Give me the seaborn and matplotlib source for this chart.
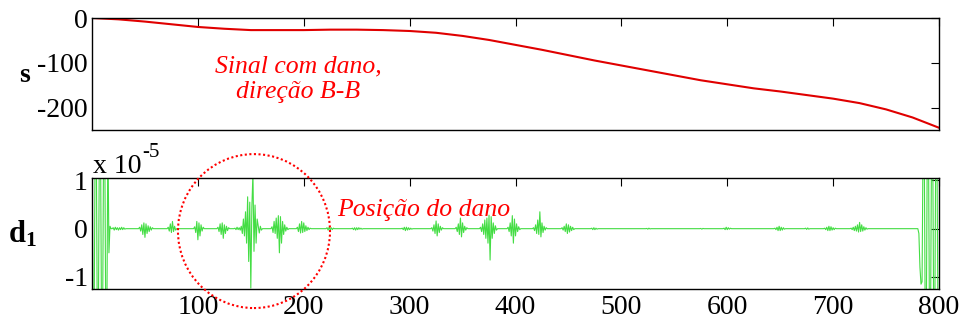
import numpy as np
import pandas as pd
import matplotlib
matplotlib.use("Agg")
import matplotlib.pyplot as plt
from matplotlib.patches import Ellipse
import seaborn as sns

# ---------------- data ----------------
s_x = [0, 25, 50, 75, 100, 125, 150, 175, 200, 225, 250, 275, 300, 325, 350,
       375, 400, 425, 450, 475, 500, 525, 550, 575, 600, 625, 650, 675, 700,
       725, 750, 775, 800]
s_y = [0, -3, -8, -14, -20, -24, -27, -27, -27, -26, -26, -27, -29, -33, -40,
       -49, -60, -71, -83, -95, -106, -117, -128, -139, -148, -157, -164, -172,
       -180, -190, -204, -222, -245]

# detail signal d1 (x 1e-5): bursts, zero elsewhere
d1_length = 801
burst_starts = [0, 20, 45, 72, 97, 119, 135, 141, 157, 170, 194, 222, 246, 293,
                321, 344, 367, 393, 417, 444, 472, 524, 575, 597, 645, 674,
                692, 717, 781]
burst_values = [
    [2, -2, -2, 2, 2, -2, -2, 2, 2, -2, -2, 2, 2, -2, -2, 2, -0.5, 0.05],
    [0.02, -0.03, 0.03, -0.02, 0.02, -0.03, 0.02, -0.02, 0.03, -0.02, 0.02, -0.01],
    [0.03, -0.05, 0.08, -0.12, 0.12, -0.18, 0.1, -0.1, 0.06, -0.06, 0.04, -0.03, 0.02],
    [0.03, -0.05, 0.1, -0.08, 0.15, -0.06, 0.05, -0.03],
    [0.04, -0.08, 0.15, -0.23, 0.12, -0.15, 0.08, -0.05, 0.03],
    [0.03, -0.06, 0.1, -0.12, 0.12, -0.2, 0.08, -0.1, 0.05, -0.04, 0.02],
    [0.01, -0.02, 0.03, -0.02, 0.02, -0.03],
    [0.05, -0.1, 0.2, -0.15, 0.35, -0.3, 0.66, -0.68, 0.55, -1.23, 0.45, 1.15,
     -0.47, 0.49, -0.3, 0.2],
    [0.06, -0.09, 0.05, -0.03],
    [0.04, -0.08, 0.15, -0.1, 0.22, -0.2, 0.27, -0.5, 0.25, -0.3, 0.15, -0.12,
     0.08, -0.05, 0.03, -0.02],
    [0.03, -0.06, 0.1, -0.09, 0.15, -0.08, 0.12, -0.06, 0.06, -0.04, 0.03, -0.02, 0.01],
    [0.02, -0.03, 0.03, -0.03, 0.02, -0.02, 0.01],
    [0.01, -0.02, 0.02, -0.03, 0.02, -0.02, 0.02, -0.01, 0.01, -0.01],
    [0.01, -0.02, 0.03, -0.04, 0.03, -0.03, 0.02, -0.02, 0.01, -0.01],
    [0.02, -0.05, 0.08, -0.1, 0.16, -0.15, 0.1, -0.08, 0.05, -0.03, 0.02],
    [0.03, -0.06, 0.1, -0.12, 0.22, -0.17, 0.12, -0.08, 0.05, -0.03, 0.02],
    [0.03, -0.06, 0.1, -0.12, 0.18, -0.2, 0.22, -0.3, 0.28, -0.65, 0.25, -0.2,
     0.12, -0.1, 0.06, -0.03],
    [0.03, -0.06, 0.12, -0.15, 0.27, -0.3, 0.2, -0.15, 0.1, -0.06, 0.04, -0.02],
    [0.02, -0.04, 0.08, -0.1, 0.18, -0.12, 0.35, -0.17, 0.12, -0.08, 0.05, -0.03, 0.02],
    [0.02, -0.03, 0.05, -0.06, 0.1, -0.1, 0.08, -0.07, 0.05, -0.04, 0.03, -0.02],
    [0.01, -0.02, 0.02, -0.02, 0.01, -0.01],
    [0.005, -0.01, 0.01, -0.005],
    [0.005, -0.01, 0.005],
    [0.01, -0.02, 0.03, -0.02, 0.02, -0.01, 0.01],
    [0.01, -0.02, 0.03, -0.04, 0.05, -0.04, 0.03, -0.03, 0.02, -0.01],
    [0.01, -0.015, 0.015, -0.01],
    [0.01, -0.02, 0.03, -0.04, 0.05, -0.04, 0.04, -0.03, 0.02, -0.02, 0.01],
    [0.01, -0.02, 0.03, -0.04, 0.05, -0.05, 0.08, -0.07, 0.13, -0.06, 0.08,
     -0.05, 0.04, -0.03, 0.02, -0.01],
    [-0.1, -0.8, -1.15, -1.1, 2, 2, -2, -2, 2, 2, -2, -2, 2, 2, -2, -2, 2, 2, -2, -2],
]

x_ticks = [100, 200, 300, 400, 500, 600, 700, 800]
s_ticks = [-200, -100, 0]
d1_ticks = [-1, 0, 1]

# -------- build table --------
d1_y = np.zeros(d1_length)
for st, vals in zip(burst_starts, burst_values):
    d1_y[st:st + len(vals)] = vals
df_s = pd.DataFrame({"x": s_x, "s": s_y})
df_d = pd.DataFrame({"x": np.arange(d1_length), "d1": d1_y})

# ---------------- style ----------------
sns.set_style("white")
plt.rcParams["font.family"] = ["Liberation Serif", "DejaVu Serif"]
plt.rcParams["mathtext.fontset"] = "custom"
plt.rcParams["mathtext.rm"] = "Liberation Serif"
plt.rcParams["mathtext.it"] = "Liberation Serif:italic"
plt.rcParams["mathtext.bf"] = "Liberation Serif:bold"
plt.rcParams["text.color"] = "black"
plt.rcParams["axes.labelcolor"] = "black"
plt.rcParams["xtick.color"] = "black"
plt.rcParams["ytick.color"] = "black"

W, H = 965, 322
fig = plt.figure(figsize=(W / 100, H / 100), dpi=100)

def ax_rect(l, t, r, b):
    return [l / W, 1 - b / H, (r - l) / W, (b - t) / H]

ax1 = fig.add_axes(ax_rect(92, 18, 939, 130))
ax2 = fig.add_axes(ax_rect(92, 178, 939, 289))

sns.lineplot(data=df_s, x="x", y="s", ax=ax1, color="#e00000", linewidth=1.5,
             estimator=None)
sns.lineplot(data=df_d, x="x", y="d1", ax=ax2, color="#44dd44", linewidth=0.8,
             estimator=None)

for ax in (ax1, ax2):
    ax.set_xlim(0, 800)
    ax.set_xticks(x_ticks)
    ax.set_xlabel("")
    ax.set_ylabel("")
    for sp in ax.spines.values():
        sp.set_visible(True)
        sp.set_color("black")
        sp.set_linewidth(1.0)
    ax.tick_params(direction="in", length=6, width=0.8, colors="black",
                   top=True, right=True, labelsize=20, pad=3)

ax1.set_ylim(-250, 0)
ax1.set_yticks(s_ticks)
ax1.set_yticklabels([str(v) for v in s_ticks])
ax1.tick_params(labelbottom=False)

ax2.set_ylim(-1.25, 1.05)
ax2.set_yticks(d1_ticks)
ax2.set_yticklabels([str(v) for v in d1_ticks])
ax2.set_xticklabels([str(v) for v in x_ticks])
ax2.tick_params(axis="x", pad=4)

# labels
fig.text(25 / W, 1 - 75 / H, "s", fontsize=20, fontweight="bold",
         ha="center", va="center", color="black")
fig.text(22 / W, 1 - 234 / H, r"$\mathbf{d}_{\mathbf{1}}$", fontsize=22,
         ha="center", va="center", color="black")
fig.text(93 / W, 1 - 173 / H, "x 10", fontsize=20,
         ha="left", va="baseline", color="black")
fig.text(142 / W, 1 - 157 / H, "-5", fontsize=15,
         ha="left", va="baseline", color="black")

fig.text(298 / W, 1 - 72 / H, "Sinal com dano,", fontsize=18.5, style="italic",
         color="red", ha="center", va="baseline")
fig.text(298 / W, 1 - 98 / H, "direção B-B", fontsize=18.5, style="italic",
         color="red", ha="center", va="baseline")
fig.text(337 / W, 1 - 216 / H, "Posição do dano", fontsize=18.5, style="italic",
         color="red", ha="left", va="baseline")

circ = Ellipse((153, -0.05), width=143.6, height=3.19, fill=False,
               edgecolor="red", linewidth=1.5, linestyle=(0, (1, 1.2)),
               clip_on=False, zorder=5)
ax2.add_patch(circ)

fig.savefig("out.png", dpi=100)
